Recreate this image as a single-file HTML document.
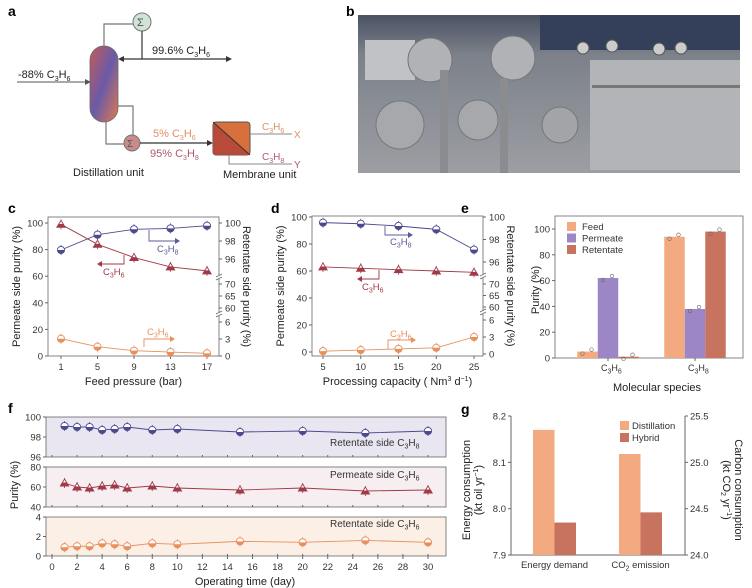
<!DOCTYPE html>
<html><head><meta charset="utf-8"><style>
body{margin:0;background:#fff}
svg{display:block;font-family:"Liberation Sans",sans-serif}
.t{font-size:9.5px;fill:#333}
.L{font-size:11px;fill:#222}
.P{font-size:14px;font-weight:bold;fill:#000}
</style></head><body>
<svg id="fig" width="752" height="588" viewBox="0 0 752 588" xmlns="http://www.w3.org/2000/svg">
<defs>
<linearGradient id="col" x1="0" y1="0" x2="1" y2="1"><stop offset="0" stop-color="#c45a5a"/><stop offset="0.5" stop-color="#6a5aa8"/><stop offset="1" stop-color="#e07a50"/></linearGradient>
<linearGradient id="photo" x1="0" y1="0" x2="0" y2="1"><stop offset="0" stop-color="#4a5262"/><stop offset="0.25" stop-color="#7c818a"/><stop offset="1" stop-color="#9c9ea3"/></linearGradient>
</defs>
<!-- panel a -->
<g>
<text class="P" x="8" y="16">a</text>
<polyline points="104,46 104,24 133,24" fill="none" stroke="#777" stroke-width="1.2"/>
<circle cx="142" cy="22" r="9" fill="#cfe3d8" stroke="#777"/>
<text x="137" y="26" font-size="11" fill="#555">Σ</text>
<line x1="142" y1="31" x2="142" y2="59" stroke="#333" stroke-width="1.2"/>
<line x1="120" y1="59" x2="230" y2="59" stroke="#333" stroke-width="1.2"/>
<path d="M226,56 L232,59 L226,62Z M124,56 L118,59 L124,62Z" fill="#333"/>
<text x="152" y="54" font-size="11" fill="#222">99.6% C<tspan font-size="7" dy="3">3</tspan><tspan dy="-3">H</tspan><tspan font-size="7" dy="3">6</tspan></text>
<line x1="17" y1="82" x2="88" y2="82" stroke="#777" stroke-width="1.2"/>
<path d="M85,79 L91,82 L85,85Z" fill="#555"/>
<text x="18" y="78" font-size="11" fill="#222">-88% C<tspan font-size="7" dy="3">3</tspan><tspan dy="-3">H</tspan><tspan font-size="7" dy="3">6</tspan></text>
<rect x="90" y="46" width="28" height="76" rx="14" fill="url(#col)" stroke="#666" stroke-width="0.8"/>
<polyline points="118,106 133,106 133,136" fill="none" stroke="#777" stroke-width="1.2"/>
<polyline points="106,122 106,144 124,144" fill="none" stroke="#777" stroke-width="1.2"/>
<circle cx="132" cy="143" r="8" fill="#c98a8a" stroke="#777"/>
<text x="127" y="147" font-size="10" fill="#555">Σ</text>
<line x1="140" y1="143" x2="210" y2="143" stroke="#333" stroke-width="1.2"/>
<path d="M207,140 L213,143 L207,146Z" fill="#333"/>
<text x="153" y="137" font-size="11" fill="#e09060">5% C<tspan font-size="7" dy="3">3</tspan><tspan dy="-3">H</tspan><tspan font-size="7" dy="3">6</tspan></text>
<text x="150" y="157" font-size="11" fill="#b05a6a">95% C<tspan font-size="7" dy="3">3</tspan><tspan dy="-3">H</tspan><tspan font-size="7" dy="3">8</tspan></text>
<rect x="213" y="122" width="37" height="33" rx="3" fill="#d8703e" stroke="#555"/>
<path d="M213,122 L250,155 L216,155 Q213,155 213,152Z" fill="#b84a3a"/>
<line x1="213" y1="122" x2="250" y2="155" stroke="#333"/>
<line x1="250" y1="134" x2="292" y2="134" stroke="#888"/>
<polyline points="229,155 229,164 292,164" fill="none" stroke="#888"/>
<text x="262" y="130" font-size="10" fill="#e09060">C<tspan font-size="7" dy="3">3</tspan><tspan dy="-3">H</tspan><tspan font-size="7" dy="3">6</tspan></text>
<text x="294" y="138" font-size="10" fill="#e09060">X</text>
<text x="262" y="160" font-size="10" fill="#b05a6a">C<tspan font-size="7" dy="3">3</tspan><tspan dy="-3">H</tspan><tspan font-size="7" dy="3">8</tspan></text>
<text x="294" y="168" font-size="10" fill="#b05a6a">Y</text>
<text x="73" y="176" font-size="11" fill="#222">Distillation unit</text>
<text x="223" y="178" font-size="11" fill="#222">Membrane unit</text>
</g>
<!-- panel b -->
<g>
<text class="P" x="346" y="16">b</text>
<rect x="358" y="15" width="382" height="158" fill="url(#photo)"/>
<rect x="540" y="15" width="200" height="35" fill="#34405a"/>
<rect x="590" y="60" width="150" height="110" fill="#b2b4b8"/>
<rect x="365" y="40" width="50" height="40" fill="#c0c2c6"/>
<circle cx="430" cy="60" r="22" fill="#b0b2b6" stroke="#777"/>
<circle cx="513" cy="58" r="22" fill="#b0b2b6" stroke="#777"/>
<circle cx="400" cy="125" r="24" fill="#a6a8ac" stroke="#777"/>
<circle cx="478" cy="120" r="20" fill="#a6a8ac" stroke="#777"/>
<circle cx="560" cy="125" r="18" fill="#a2a4a8" stroke="#777"/>
<rect x="440" y="70" width="8" height="103" fill="#8a8c90"/>
<rect x="500" y="78" width="8" height="95" fill="#8a8c90"/>
<circle cx="583" cy="48" r="6" fill="#ccc" stroke="#555"/>
<circle cx="612" cy="46" r="6" fill="#ccc" stroke="#555"/>
<circle cx="659" cy="49" r="6" fill="#ccc" stroke="#555"/>
<circle cx="681" cy="48" r="6" fill="#ccc" stroke="#555"/>
<rect x="592" y="85" width="148" height="3" fill="#777"/>
</g>
<g id="charts"></g>
</svg>
<script>
// ---- panel c data ----
const cX = [1,5,9,13,17];
const cRetC3H8 = [97.0,98.7,99.3,99.4,99.7];
const cPermC3H6 = [99,84,74,67,64];
const cRetC3H6 = [3.05,1.64,0.94,0.7,0.47];
// ---- panel d data ----
const dX = [5,10,15,20,25];
const dRetC3H8 = [99.5,99.4,99.2,98.9,97.1];
const dPermC3H6 = [63,62,61,60,59];
const dRetC3H6 = [0.5,0.7,0.9,1.1,3.0];
// ---- panel e data ----
const eCats = ["C3H6","C3H8"];
const eFeed = [5,94];
const ePerm = [62,38];
const eRet = [1,98];
// ---- panel f data ----
const fDays = [1,2,3,4,5,6,8,10,15,20,25,30];
const fRetC3H8 = [99.1,99.0,99.0,98.7,98.8,99.0,98.7,98.8,98.5,98.6,98.4,98.6];
const fPermC3H6 = [64,60,59,61,62,59,61,59,57,59,56,57];
const fRetC3H6 = [0.9,1.0,1.0,1.3,1.2,1.0,1.3,1.2,1.5,1.4,1.6,1.4];
// ---- panel g data ----
const gCats = ["Energy demand","CO2 emission"];
const gDistill = [8.17, 25.09];
const gHybrid = [7.97, 24.46];
const gLeftTicks = [7.9,8.0,8.1,8.2];
const gRightTicks = ["24.0","24.5","25.0","25.5"];

const NS="http://www.w3.org/2000/svg";
const root=document.getElementById('charts');
function mk(tag,attrs,parent,txt){const e=document.createElementNS(NS,tag);for(const k in attrs)e.setAttribute(k,attrs[k]);if(txt!==undefined)e.textContent=txt;(parent||root).appendChild(e);return e;}
const BLUE="#4b4a8e",RED="#a03a48",ORA="#e8905c",GREY="#666";
function chem(parent,x,y,sub1,sub2,cls,fill,anchor){const t=mk('text',{x:x,y:y,'font-size':cls||10,fill:fill||'#333','text-anchor':anchor||'start'},parent);
 t.innerHTML='C<tspan font-size="7" dy="2.5">'+sub1+'</tspan><tspan dy="-2.5">H</tspan><tspan font-size="7" dy="2.5">'+sub2+'</tspan>';return t;}
function marker(g,type,x,y,col){
 const m=mk('g',{},g);
 
 
 mk('line',{x1:x,y1:y-5,x2:x,y2:y+5,stroke:col,'stroke-width':0.8},m);
 if(type==='c'){mk('circle',{cx:x,cy:y,r:3.6,fill:'#fff',stroke:col,'stroke-width':0.9},m);
  mk('path',{d:`M${x-3.6},${y} A3.6,3.6 0 0 0 ${x+3.6},${y}Z`,fill:col},m);}
 else{mk('path',{d:`M${x},${y-4} L${x+4.2},${y+3} L${x-4.2},${y+3}Z`,fill:'#fff',stroke:col,'stroke-width':0.9},m);
  mk('path',{d:`M${x-2.1},${y-0.5} L${x+2.1},${y-0.5} L${x+4.2},${y+3} L${x-4.2},${y+3}Z`,fill:col},m);}
}
function series(g,xs,ys,fx,fy,type,col,name){
 const s=mk('g',{},g);
 
 
 mk('polyline',{points:xs.map((v,i)=>fx(v)+','+fy(ys[i])).join(' '),fill:'none',stroke:col,'stroke-width':0.9},s);
 xs.forEach((v,i)=>marker(s,type,fx(v),fy(ys[i]),col));
}
function rightMap(y0,y3,y60,y70,y96,y100){return v=>{
 if(v<=6)return y0+(y3-y0)*v/3;
 if(v<=70)return y60+(y70-y60)*(v-60)/10;
 return y96+(y100-y96)*(v-96)/4;};}

function lineChart(o){
 const g=mk('g',{});
 
 
 mk('text',{class:'P',x:o.px,y:o.py},g,o.letter);
 const fx=v=>o.x0+(o.x1-o.x0)*(v-o.xs[0])/(o.xs[o.xs.length-1]-o.xs[0]);
 const fyL=v=>o.yl0+(o.yl100-o.yl0)*v/100;
 const fyR=o.fr;
 mk('rect',{x:o.L,y:o.T,width:o.R-o.L,height:o.B-o.T,fill:'none',stroke:GREY,'stroke-width':0.8},g);
 [0,20,40,60,80,100].forEach(v=>{const y=fyL(v);mk('line',{x1:o.L,x2:o.L-3,y1:y,y2:y,stroke:GREY},g);mk('text',{class:'t',x:o.L-5,y:y+3.5,'text-anchor':'end'},g,v);});
 [[0,'0'],[3,'3'],[6,'6'],[60,'60'],[65,'65'],[70,'70'],[96,'96'],[98,'98'],[100,'100']].forEach(([v,l])=>{const y=fyR(v);mk('line',{x1:o.R,x2:o.R+3,y1:y,y2:y,stroke:GREY},g);mk('text',{class:'t',x:o.R+6,y:y+3.5},g,l);});
 [o.brk1,o.brk2].forEach(y=>{mk('rect',{x:o.R-3,y:y-2,width:6,height:4,fill:'#fff'},g);mk('path',{d:`M${o.R-3},${y} l6,-3 M${o.R-3},${y+3} l6,-3`,stroke:GREY,'stroke-width':0.8},g);});
 o.xs.forEach(v=>{const x=fx(v);mk('line',{x1:x,x2:x,y1:o.B,y2:o.B+3,stroke:GREY},g);mk('text',{class:'t',x:x,y:o.B+14,'text-anchor':'middle'},g,v);});
 mk('text',{class:'L',x:(o.L+o.R)/2,y:o.B+29,'text-anchor':'middle'},g).innerHTML=o.xlabel;
 mk('text',{class:'L',transform:`translate(${o.L-28},${(o.T+o.B)/2}) rotate(-90)`,'text-anchor':'middle'},g,'Permeate side purity (%)');
 mk('text',{class:'L',transform:`translate(${o.R+24},${(o.T+o.B)/2}) rotate(90)`,'text-anchor':'middle'},g,'Retentate side purity (%)');
 series(g,o.xs,o.ret8,fx,fyR,'c',BLUE,'series-retentate-c3h8');
 series(g,o.xs,o.perm6,fx,fyL,'t',RED,'series-permeate-c3h6');
 series(g,o.xs,o.ret6,fx,fyR,'c',ORA,'series-retentate-c3h6');
 o.ann.forEach(a=>{mk('polyline',{points:a.pts,fill:'none',stroke:a.col,'stroke-width':0.9},g);mk('path',{d:a.head,fill:a.col},g);chem(g,a.tx,a.ty,'3',a.s,9.5,a.col);});
}
lineChart({name:'panel-c-chart',letter:'c',px:8,py:213,L:48,R:219,T:217,B:356,x0:61,x1:207,xs:cX,yl0:356,yl100:223,
 fr:rightMap(356,339,308,284,259,223),brk1:277,brk2:314,xlabel:'Feed pressure (bar)',
 ret8:cRetC3H8,perm6:cPermC3H6,ret6:cRetC3H6,
 ann:[{pts:'149,230 149,241 177,241',head:'M175,238 L180,241 L175,244Z',col:'#5a5a9a',tx:157,ty:252,s:'8'},
      {pts:'124,255 124,264 100,264',head:'M102,261 L97,264 L102,267Z',col:RED,tx:103,ty:275,s:'6'},
      {pts:'144,347 144,339 172,339',head:'M170,336 L175,339 L170,342Z',col:ORA,tx:147,ty:335,s:'6'}]});
lineChart({name:'panel-d-chart',letter:'d',px:271,py:213,L:312,R:483,T:216,B:356,x0:323,x1:474,xs:dX,yl0:352,yl100:217,
 fr:rightMap(354,337,307,284,262,217),brk1:276,brk2:312,xlabel:'Processing capacity ( Nm<tspan font-size="7" dy="-4">3</tspan><tspan dy="4"> d</tspan><tspan font-size="7" dy="-4">−1</tspan><tspan dy="4">)</tspan>',
 ret8:dRetC3H8,perm6:dPermC3H6,ret6:dRetC3H6,
 ann:[{pts:'385,226 385,235 410,235',head:'M408,232 L413,235 L408,238Z',col:'#5a5a9a',tx:390,ty:245,s:'8'},
      {pts:'379,270 379,279 360,279',head:'M362,276 L357,279 L362,282Z',col:RED,tx:362,ty:290,s:'6'},
      {pts:'388,349 388,340 413,340',head:'M411,337 L416,340 L411,343Z',col:ORA,tx:390,ty:337,s:'6'}]});

// panel e
(function(){
 const g=mk('g',{});
 
 
 mk('text',{class:'P',x:461,y:213},g,'e');
 const L=555,R=743,T=216,B=358;
 const fy=v=>B+(229-B)*v/100;
 mk('rect',{x:L,y:T,width:R-L,height:B-T,fill:'none',stroke:GREY,'stroke-width':0.8},g);
 [0,20,40,60,80,100].forEach(v=>{const y=fy(v);mk('line',{x1:L,x2:L-3,y1:y,y2:y,stroke:GREY},g);mk('text',{class:'t',x:L-5,y:y+3.5,'text-anchor':'end'},g,v);});
 const centers=[608,695],bw=20.5;
 const sets=[[eFeed,'#f4aa80','bar-feed'],[ePerm,'#9c86c6','bar-permeate'],[eRet,'#c8735f','bar-retentate']];
 eCats.forEach((c,i)=>{
  sets.forEach(([arr,col,nm],j)=>{const x=centers[i]+(j-1.5)*bw;const b=mk('rect',{x:x,y:fy(arr[i]),width:bw,height:B-fy(arr[i]),fill:col},g);
   
   
   mk('circle',{cx:x+bw/2-5,cy:fy(arr[i])+2,r:1.8,fill:'none',stroke:'#666','stroke-width':0.6},g);
   mk('circle',{cx:x+bw/2+4,cy:fy(arr[i])-2,r:1.8,fill:'none',stroke:'#666','stroke-width':0.6},g);});
  mk('line',{x1:centers[i],x2:centers[i],y1:B,y2:B+3,stroke:GREY},g);
  chem(g,centers[i]-7,B+13,'3',c.slice(-1),9,'#333');
 });
 [['Feed','#f4aa80'],['Permeate','#9c86c6'],['Retentate','#c8735f']].forEach(([t,c],i)=>{mk('rect',{x:567,y:222+i*11.5,width:9,height:9,fill:c},g);mk('text',{class:'t',x:582,y:230+i*11.5,'font-size':10},g,t);});
 mk('text',{class:'L',x:657,y:391,'text-anchor':'middle'},g,'Molecular species');
 mk('text',{class:'L',transform:'translate(539,290) rotate(-90)','text-anchor':'middle'},g,'Purity (%)');
})();

// panel f
(function(){
 const g=mk('g',{});
 
 
 mk('text',{class:'P',x:8,y:413},g,'f');
 const L=46,R=446;const fx=v=>52+(428-52)*v/30;
 const subs=[{t:417,b:457,lo:96,hi:100,ticks:[96,98,100],bg:'#e9e6f1',data:fRetC3H8,col:BLUE,ty:'c',lab:['Retentate side ','8'],ly:446,nm:'subplot-retentate-c3h8'},
             {t:467,b:507,lo:40,hi:80,ticks:[40,60,80],bg:'#f6eef1',data:fPermC3H6,col:RED,ty:'t',lab:['Permeate side ','6'],ly:478,nm:'subplot-permeate-c3h6'},
             {t:517,b:556,lo:0,hi:4,ticks:[0,2,4],bg:'#fcefe6',data:fRetC3H6,col:ORA,ty:'c',lab:['Retentate side ','6'],ly:527,nm:'subplot-retentate-c3h6'}];
 subs.forEach(s=>{
  const sg=mk('g',{},g);
  
  
  const fy=v=>s.b+(s.t-s.b)*(v-s.lo)/(s.hi-s.lo);
  mk('rect',{x:L,y:s.t,width:R-L,height:s.b-s.t,fill:s.bg,stroke:GREY,'stroke-width':0.8},sg);
  s.ticks.forEach(v=>{const y=fy(v);mk('line',{x1:L,x2:L-3,y1:y,y2:y,stroke:GREY},sg);mk('text',{class:'t',x:L-5,y:y+3.5,'text-anchor':'end'},sg,v);});
  for(let d=0;d<=30;d+=2){mk('line',{x1:fx(d),x2:fx(d),y1:s.b,y2:s.b-2,stroke:GREY},sg);}
  series(sg,fDays,s.data,fx,fy,s.ty,s.col,'series-'+s.nm);
  const t=mk('text',{x:330,y:s.ly,'font-size':10,fill:'#333'},sg);
  t.innerHTML=s.lab[0]+'C<tspan font-size="7" dy="2.5">3</tspan><tspan dy="-2.5">H</tspan><tspan font-size="7" dy="2.5">'+s.lab[1]+'</tspan>';
 });
 for(let d=0;d<=30;d+=2){mk('line',{x1:fx(d),x2:fx(d),y1:556,y2:559,stroke:GREY},g);mk('text',{class:'t',x:fx(d),y:570,'text-anchor':'middle'},g,d);}
 mk('text',{class:'L',x:245,y:585,'text-anchor':'middle'},g,'Operating time (day)');
 mk('text',{class:'L',transform:'translate(18,485) rotate(-90)','text-anchor':'middle'},g,'Purity (%)');
})();

// panel g
(function(){
 const g=mk('g',{});
 
 
 mk('text',{class:'P',x:461,y:414},g,'g');
 const L=511,R=685,T=416,B=555;
 const fyL=v=>B+(T-B)*(v-7.9)/0.3;
 const fyR=v=>B+(T-B)*(v-24.0)/1.5;
 mk('line',{x1:L,x2:L,y1:T,y2:B,stroke:GREY},g);
 mk('line',{x1:R,x2:R,y1:T,y2:B,stroke:GREY},g);
 mk('line',{x1:L,x2:R,y1:B,y2:B,stroke:GREY},g);
 gLeftTicks.forEach(v=>{const y=fyL(v);mk('line',{x1:L,x2:L-3,y1:y,y2:y,stroke:GREY},g);mk('text',{class:'t',x:L-5,y:y+3.5,'text-anchor':'end'},g,v.toFixed(1));});
 gRightTicks.forEach(l=>{const y=fyR(parseFloat(l));mk('line',{x1:R,x2:R+3,y1:y,y2:y,stroke:GREY},g);mk('text',{class:'t',x:R+5,y:y+3.5},g,l);});
 const centers=[554.5,640.5],bw=21.5;
 gCats.forEach((c,i)=>{
  const f=i===0?fyL:fyR;
  const b1=mk('rect',{x:centers[i]-bw,y:f(gDistill[i]),width:bw,height:B-f(gDistill[i]),fill:'#f4aa80'},g);
  
  
  const b2=mk('rect',{x:centers[i],y:f(gHybrid[i]),width:bw,height:B-f(gHybrid[i]),fill:'#c8735f'},g);
  
  
  const t=mk('text',{class:'t',x:centers[i],y:B+13,'text-anchor':'middle'},g);
  t.innerHTML=i===0?c:'CO<tspan font-size="7" dy="2.5">2</tspan><tspan dy="-2.5"> emission</tspan>';
 });
 [['Distillation','#f4aa80'],['Hybrid','#c8735f']].forEach(([t,c],i)=>{mk('rect',{x:620,y:421+i*12,width:9,height:9,fill:c},g);mk('text',{class:'t',x:632,y:429+i*12,'font-size':10},g,t);});
 mk('text',{class:'L',transform:'translate(470,490) rotate(-90)','text-anchor':'middle'},g,'Energy consumption');
 mk('text',{class:'L',transform:'translate(482,490) rotate(-90)','text-anchor':'middle'},g).innerHTML='(kt oil yr<tspan font-size="7" dy="-4">−1</tspan><tspan dy="4">)</tspan>';
 mk('text',{class:'L',transform:'translate(735,490) rotate(90)','text-anchor':'middle'},g,'Carbon consumption');
 mk('text',{class:'L',transform:'translate(723,490) rotate(90)','text-anchor':'middle'},g).innerHTML='(kt CO<tspan font-size="7" dy="2">2</tspan><tspan dy="-2"> yr</tspan><tspan font-size="7" dy="-4">−1</tspan><tspan dy="4">)</tspan>';
})();
</script>
</body></html>
